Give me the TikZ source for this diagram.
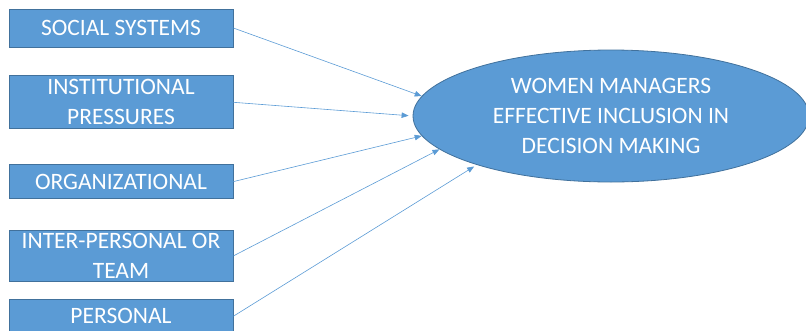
\documentclass[tikz,border=0pt]{standalone}
\usepackage{fontspec}
\setmainfont{Carlito}
\usetikzlibrary{shapes.geometric,positioning,arrows.meta}
\definecolor{boxblue}{HTML}{5B9BD5}
\definecolor{edgeblue}{HTML}{41719C}
\begin{document}
\begin{tikzpicture}[x=1pt, y=-1pt,
  factor/.style={rectangle, draw=edgeblue, fill=boxblue, line width=0.8pt, text=white, align=center, minimum width=224pt, inner sep=0pt, font=\fontsize{23.5}{30}\selectfont},
  outcome/.style={ellipse, draw=edgeblue, fill=boxblue, line width=0.8pt, text=white, align=center, minimum width=396pt, minimum height=132pt, inner sep=0pt, font=\fontsize{23.5}{30}\selectfont},
  arrow/.style={-{Triangle[length=7pt,width=5.5pt]}, draw=boxblue, line width=0.6pt},
]
\useasboundingbox (0,0) rectangle (806,330);

% === Factors on the left ===
\node[factor, minimum height=38pt] (social) at (121,28) {SOCIAL SYSTEMS};
\node[factor, minimum height=53pt, below=28pt of social] (institutional) {INSTITUTIONAL\\PRESSURES};
\node[factor, minimum height=34pt, below=35pt of institutional] (organizational) {ORGANIZATIONAL};
\node[factor, minimum height=51pt, below=31pt of organizational] (team) {INTER-PERSONAL OR\\TEAM};
\node[factor, minimum height=34pt, below=17pt of team] (personal) {PERSONAL};

% === Outcome ===
\node[outcome] (inclusion) at (611,116) {WOMEN MANAGERS\\EFFECTIVE INCLUSION IN\\DECISION MAKING};

\draw[arrow] (social.east) -- (inclusion.174.7);
\draw[arrow, shorten >=4pt] (institutional.east) -- (inclusion.180);
\draw[arrow] (organizational.east) -- (inclusion.186.3);
\draw[arrow] (team.east) -- (inclusion.191.7);
\draw[arrow, shorten >=3pt] (personal.east) -- (inclusion.200);

\end{tikzpicture}
\end{document}
